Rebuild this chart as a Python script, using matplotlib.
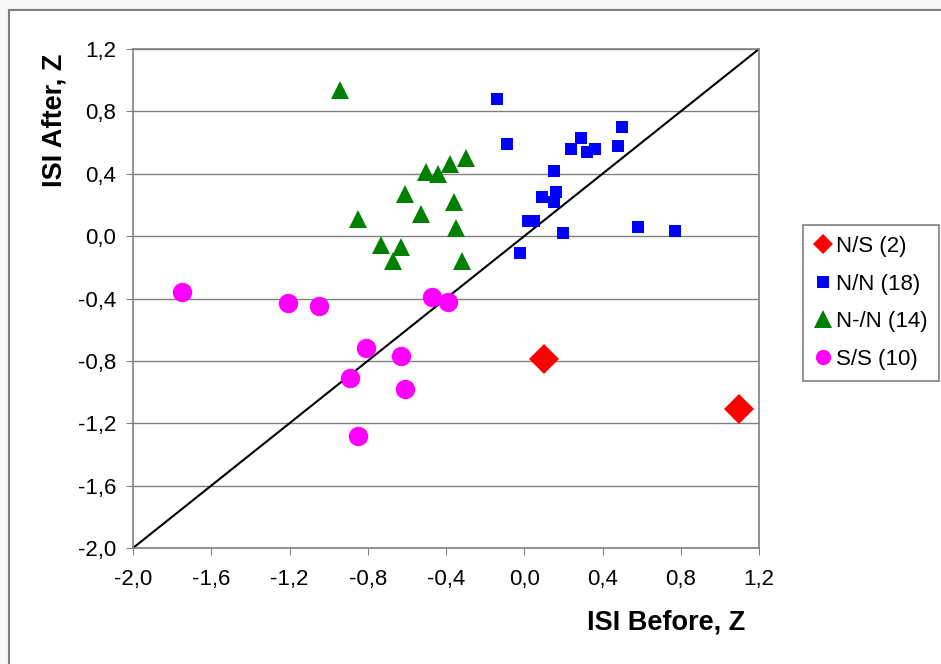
import matplotlib
matplotlib.use("Agg")
import matplotlib.pyplot as plt
from matplotlib.lines import Line2D
from matplotlib.patches import Rectangle

plt.rcParams['font.family'] = ['Liberation Sans', 'DejaVu Sans']

# N/S (2)
ns_before = [0.10, 1.10]
ns_after = [-0.79, -1.11]

# N/N (18)
nn_before = [-0.14, -0.09, 0.50, 0.29, 0.24, 0.32, 0.36, 0.48, 0.15,
             0.09, 0.16, 0.15, 0.02, 0.05, 0.20, -0.02, 0.58, 0.77]
nn_after = [0.88, 0.59, 0.70, 0.63, 0.56, 0.54, 0.56, 0.58, 0.42,
            0.25, 0.28, 0.22, 0.10, 0.10, 0.02, -0.11, 0.06, 0.03]

# N-/N (14)
nmn_before = [-0.94, -0.30, -0.38, -0.50, -0.44, -0.61, -0.36,
              -0.53, -0.85, -0.35, -0.73, -0.63, -0.67, -0.32]
nmn_after = [0.94, 0.50, 0.46, 0.41, 0.40, 0.27, 0.22,
             0.14, 0.11, 0.05, -0.06, -0.07, -0.16, -0.16]

# S/S (10)
ss_before = [-1.75, -1.21, -1.05, -0.47, -0.39, -0.81, -0.63, -0.89, -0.61, -0.85]
ss_after = [-0.36, -0.43, -0.45, -0.39, -0.42, -0.72, -0.77, -0.91, -0.98, -1.28]

ticks = [-2.0, -1.6, -1.2, -0.8, -0.4, 0.0, 0.4, 0.8, 1.2]
tick_labels = ['-2,0', '-1,6', '-1,2', '-0,8', '-0,4', '0,0', '0,4', '0,8', '1,2']
legend_labels = ['N/S (2)', 'N/N (18)', 'N-/N (14)', 'S/S (10)']

gris = '#808080'

fig = plt.figure(figsize=(9.41, 6.64), dpi=100, facecolor='#f7f7f7')
# moldura externa do gráfico
fig.patches.append(Rectangle((9 / 941, -0.1), 1.2, 1.1 - 10 / 664, transform=fig.transFigure,
                             facecolor='white', edgecolor=gris, linewidth=1.5, zorder=-5))

ax = fig.add_axes([133 / 941, 1 - 548 / 664, (759 - 133) / 941, (548 - 49) / 664])
ax.set_facecolor('white')

ax.plot([-2.0, 1.2], [-2.0, 1.2], color='black', linewidth=1.5, zorder=2)

ax.plot(ns_before, ns_after, linestyle='none', marker='D', markersize=15, color='#ff0000',
        markeredgewidth=0, zorder=3)
ax.plot(nn_before, nn_after, linestyle='none', marker='s', markersize=8.5, color='#0000ff',
        markeredgewidth=0, zorder=3)
ax.plot(nmn_before, nmn_after, linestyle='none', marker='^', markersize=13, color='#008000',
        markeredgewidth=0, zorder=3)
ax.plot(ss_before, ss_after, linestyle='none', marker='o', markersize=14, color='#ff00ff',
        markeredgewidth=0, zorder=3)

ax.set_xlim(-2.0, 1.2)
ax.set_ylim(-2.0, 1.2)
ax.set_xticks(ticks)
ax.set_xticklabels(tick_labels)
ax.set_yticks(ticks)
ax.set_yticklabels(tick_labels)
ax.tick_params(direction='out', length=5, color=gris, labelsize=16, pad=7)
ax.tick_params(axis='x', pad=10)
ax.yaxis.grid(True, color=gris, linewidth=1)
ax.set_axisbelow(True)
for s in ax.spines.values():
    s.set_color(gris)
    s.set_linewidth(1.2)

fig.text(745 / 941, 1 - 622 / 664, 'ISI Before, Z', ha='right', va='center',
         fontsize=19.5, fontweight='bold')
fig.text(55 / 941, 1 - 120 / 664, 'ISI After, Z', ha='center', va='center', rotation=90,
         fontsize=19.5, fontweight='bold')

handles = [
    Line2D([], [], linestyle='none', marker='D', markersize=10, color='#ff0000', markeredgewidth=0),
    Line2D([], [], linestyle='none', marker='s', markersize=8, color='#0000ff', markeredgewidth=0),
    Line2D([], [], linestyle='none', marker='^', markersize=13, color='#008000', markeredgewidth=0),
    Line2D([], [], linestyle='none', marker='o', markersize=11, color='#ff00ff', markeredgewidth=0),
]
leg = fig.legend(handles, legend_labels, loc='lower left', bbox_to_anchor=(803 / 941, 1 - 381 / 664),
                 fontsize=16, frameon=True, fancybox=False, edgecolor=gris, framealpha=1,
                 handlelength=0.8, handletextpad=0.2, labelspacing=0.75, borderpad=0.5,
                 borderaxespad=0)
leg.get_frame().set_linewidth(1.2)

fig.savefig('out.png', dpi=100, facecolor=fig.get_facecolor())
